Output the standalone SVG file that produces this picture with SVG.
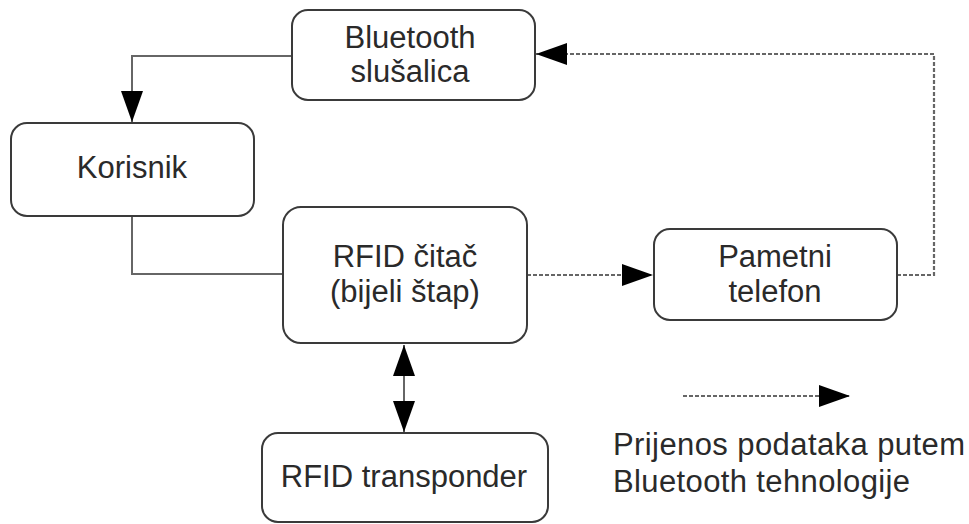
<svg xmlns="http://www.w3.org/2000/svg" width="969" height="524" viewBox="0 0 969 524">
<style>
.box{fill:#fff;stroke:#3a3a3a;stroke-width:2}
.t{font-family:"Liberation Sans",Arial,sans-serif;font-size:31px;fill:#2a2a2a;text-anchor:middle}
.lg{font-family:"Liberation Sans",Arial,sans-serif;font-size:31px;fill:#2a2a2a}
.solid{fill:none;stroke:#666;stroke-width:2}
.dot{fill:none;stroke:#666;stroke-width:2.2;stroke-dasharray:4 2}
</style>
<defs>
<marker id="ah" markerUnits="userSpaceOnUse" markerWidth="32" markerHeight="24" refX="31" refY="11" orient="auto">
<path d="M0,0 L31,11 L0,22 z" fill="#000"/>
</marker>
<marker id="ahs" markerUnits="userSpaceOnUse" markerWidth="32" markerHeight="24" refX="31" refY="11" orient="auto-start-reverse">
<path d="M0,0 L31,11 L0,22 z" fill="#000"/>
</marker>
</defs>
<g id="connectors">
<path class="solid" d="M292,56 H132 V122" marker-end="url(#ah)"/>
<path class="solid" d="M132,216 V274 H283"/>
<path class="dot" d="M527,275 H653" marker-end="url(#ah)"/>
<path class="dot" d="M897,275 H934 V54 H536" marker-end="url(#ah)"/>
<path class="solid" d="M404,345 V432" marker-start="url(#ahs)" marker-end="url(#ahs)"/>
</g>
<g id="bluetooth">
<rect class="box" x="292" y="10" width="243" height="90" rx="16"/>
<text class="t" x="410" y="48">Bluetooth</text>
<text class="t" x="410" y="82">slušalica</text>
</g>
<g id="korisnik">
<rect class="box" x="11" y="123" width="243" height="93" rx="16"/>
<text class="t" x="132" y="178">Korisnik</text>
</g>
<g id="rfid-citac">
<rect class="box" x="283" y="207" width="244" height="136" rx="18"/>
<text class="t" x="405" y="267">RFID čitač</text>
<text class="t" x="405" y="302">(bijeli štap)</text>
</g>
<g id="pametni">
<rect class="box" x="654" y="229" width="243" height="91" rx="16"/>
<text class="t" x="775" y="267">Pametni</text>
<text class="t" x="775" y="302">telefon</text>
</g>
<g id="transponder">
<rect class="box" x="262" y="433" width="286" height="89" rx="16"/>
<text class="t" x="404" y="487">RFID transponder</text>
</g>
<g id="legend">
<path class="dot" d="M683,396 H850" marker-end="url(#ah)"/>
<text class="lg" x="613" y="455" textLength="352">Prijenos podataka putem</text>
<text class="lg" x="613" y="492" textLength="297">Bluetooth tehnologije</text>
</g>
</svg>
